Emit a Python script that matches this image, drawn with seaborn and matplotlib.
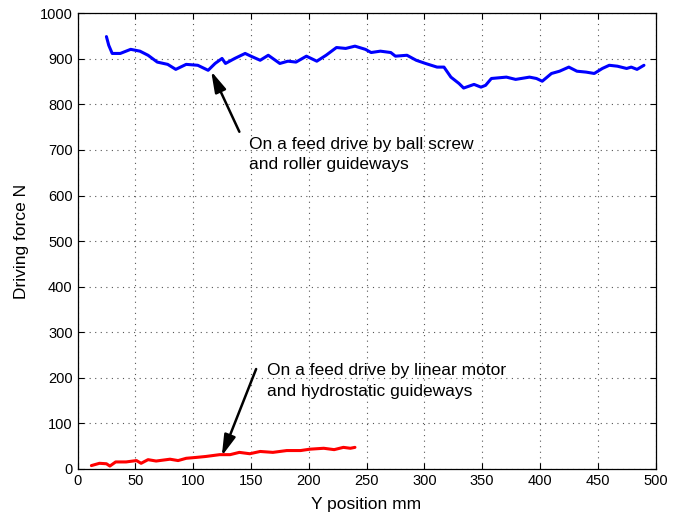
import numpy as np
import pandas as pd
import seaborn as sns
import matplotlib
matplotlib.use("Agg")
import matplotlib.pyplot as plt

# Ball screw + roller guideways (blue)
ball_x = [25, 27, 30, 37, 46, 54, 61, 69, 78, 85, 94, 104, 113, 119, 125, 128, 136, 145, 150, 158,
          165, 175, 182, 189, 198, 207, 215, 224, 232, 240, 249, 254, 262, 271, 275, 285, 293, 301,
          311, 317, 323, 330, 334, 343, 349, 353, 358, 371, 379, 391, 397, 402, 410, 417, 425, 432,
          440, 447, 454, 460, 467, 475, 479, 484, 490]
ball_y = [949, 930, 912, 912, 921, 917, 908, 893, 888, 877, 888, 886, 875, 890, 901, 890, 901, 912, 906, 897,
          908, 890, 895, 893, 906, 895, 908, 925, 923, 928, 921, 914, 917, 914, 906, 908, 897, 890,
          882, 882, 860, 846, 836, 844, 838, 842, 857, 860, 855, 860, 857, 851, 868, 873, 882, 873,
          871, 868, 879, 886, 884, 879, 882, 877, 886]

# Linear motor + hydrostatic guideways (red)
lin_x = [12, 19, 25, 28, 33, 42, 51, 55, 61, 68, 80, 87, 94, 103, 111, 123, 132, 140, 149, 158,
         169, 181, 193, 201, 213, 222, 230, 236, 240]
lin_y = [7, 12, 11, 6, 15, 15, 18, 12, 20, 17, 21, 18, 23, 25, 27, 31, 31, 36, 33, 38,
         36, 40, 40, 43, 45, 42, 47, 45, 47]

x_ticks = list(range(0, 501, 50))
y_ticks = list(range(0, 1001, 100))

sns.set_style("ticks")
plt.rcParams['font.family'] = ['Liberation Sans', 'DejaVu Sans']
plt.rcParams.update({"text.color": "black", "axes.labelcolor": "black",
                     "xtick.color": "black", "ytick.color": "black"})

df_ball = pd.DataFrame({"x": ball_x, "y": ball_y})
df_lin = pd.DataFrame({"x": lin_x, "y": lin_y})

fig, ax = plt.subplots(figsize=(6.8, 5.14), dpi=100)
fig.subplots_adjust(left=0.114, right=0.964, top=0.974, bottom=0.088)

sns.lineplot(data=df_ball, x="x", y="y", color="#0000ff", lw=2.2, sort=False, estimator=None, ax=ax)
sns.lineplot(data=df_lin, x="x", y="y", color="#ff0000", lw=2.2, sort=False, estimator=None, ax=ax)

ax.set_xlim(0, 500)
ax.set_ylim(0, 1000)
ax.set_xticks(x_ticks)
ax.set_yticks(y_ticks)
ax.tick_params(direction="in", top=True, right=True, labelsize=10.5, length=4, width=0.8)
ax.grid(True, linestyle=(0, (1, 4)), color="#555555", lw=0.8)
for s in ax.spines.values():
    s.set_visible(True)
    s.set_linewidth(0.9)
    s.set_color("black")

ax.set_xlabel("Y position mm", fontsize=12.5, labelpad=7)
ax.set_ylabel("Driving force N", fontsize=12.5, labelpad=8)

arrow = dict(arrowstyle="-|>,head_length=0.9,head_width=0.25", color="black", lw=1.8,
             mutation_scale=14, shrinkA=0, shrinkB=0)
ax.annotate("", xy=(115.6, 873), xytext=(140, 740), arrowprops=arrow)
ax.annotate("", xy=(124.8, 28), xytext=(154.5, 219), arrowprops=arrow)

ax.text(148.6, 690, "On a feed drive by ball screw\nand roller guideways",
        fontsize=12.5, ha="left", va="center", linespacing=1.45)
ax.text(163.7, 193, "On a feed drive by linear motor\nand hydrostatic guideways",
        fontsize=12.5, ha="left", va="center", linespacing=1.45)

fig.savefig("out.png", dpi=100)
